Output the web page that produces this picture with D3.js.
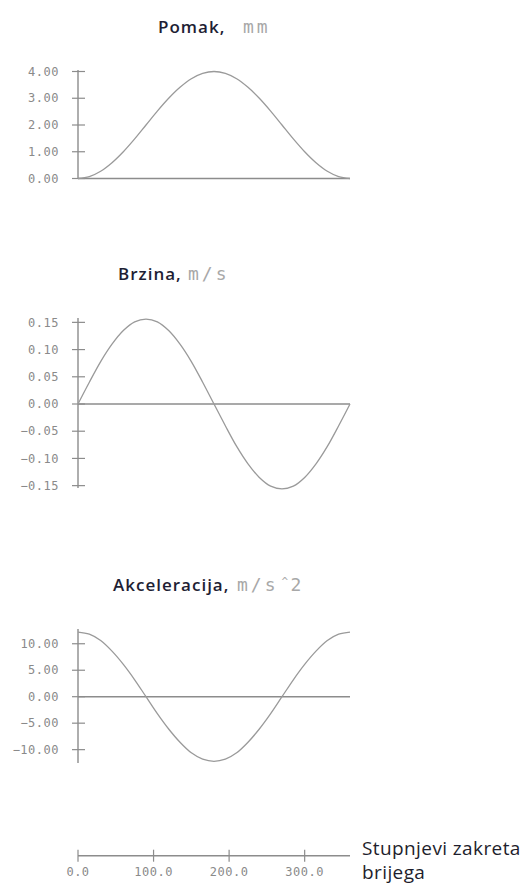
<!DOCTYPE html>
<html>
<head>
<meta charset="utf-8">
<script src="https://cdn.jsdelivr.net/npm/d3@7"></script>
<style>
  html, body { margin: 0; padding: 0; background: #fff; }
  svg { display: block; }
</style>
</head>
<body>
<div id="chart"></div>
<script>
// cam rotation angle, degrees
const angles = [0, 15, 30, 45, 60, 75, 90, 105, 120, 135, 150, 165, 180,
  195, 210, 225, 240, 255, 270, 285, 300, 315, 330, 345, 360];

// displacement, mm
const pomak = [0.00, 0.07, 0.27, 0.59, 1.00, 1.48, 2.00, 2.52, 3.00, 3.41, 3.73, 3.93, 4.00,
  3.93, 3.73, 3.41, 3.00, 2.52, 2.00, 1.48, 1.00, 0.59, 0.27, 0.07, 0.00];

// velocity, m/s
const brzina = [0.000, 0.040, 0.078, 0.110, 0.135, 0.151, 0.156, 0.151, 0.135, 0.110, 0.078, 0.040, 0.000,
  -0.040, -0.078, -0.110, -0.135, -0.151, -0.156, -0.151, -0.135, -0.110, -0.078, -0.040, 0.000];

// acceleration, m/s^2
const akceleracija = [12.2, 11.8, 10.6, 8.6, 6.1, 3.2, 0.0, -3.2, -6.1, -8.6, -10.6, -11.8, -12.2,
  -11.8, -10.6, -8.6, -6.1, -3.2, 0.0, 3.2, 6.1, 8.6, 10.6, 11.8, 12.2];

const pomakTicks = [0, 1, 2, 3, 4];
const brzinaTicks = [-0.15, -0.10, -0.05, 0, 0.05, 0.10, 0.15];
const akceleracijaTicks = [-10, -5, 0, 5, 10];
const angleTicks = [0, 100, 200, 300];

const width = 526;
const height = 884;
const axisColor = '#8c8c8c';
const lineColor = '#9a9a9a';
const tickFont = '"DejaVu Sans Mono", monospace';
const titleFont = '"Open Sans", sans-serif';

const svg = d3.select('#chart')
  .append('svg')
  .attr('width', width)
  .attr('height', height);

// shared x scale (degrees)
const x = d3.scaleLinear().domain([0, 360]).range([78, 350]);

// one panel per quantity
const panels = [
  {name: 'Pomak,', unit: 'mm', values: pomak, ticks: pomakTicks, fmt: d3.format('.2f'),
    domain: [0, 4], range: [178.5, 71.5], axisTop: 70, axisBottom: 178.5,
    titleX: 158, titleY: 33, unitX: 243},
  {name: 'Brzina,', unit: 'm/s', values: brzina, ticks: brzinaTicks, fmt: d3.format('.2f'),
    domain: [-0.156, 0.156], range: [488.9, 319.1], axisTop: 318, axisBottom: 488,
    titleX: 118, titleY: 280, unitX: 188},
  {name: 'Akceleracija,', unit: 'm/s', power: '2', values: akceleracija, ticks: akceleracijaTicks, fmt: d3.format('.2f'),
    domain: [-12.2, 12.2], range: [761.3, 632.1], axisTop: 629, axisBottom: 763,
    titleX: 113, titleY: 591, unitX: 237}
];

panels.forEach(p => {
  const y = d3.scaleLinear().domain(p.domain).range(p.range);
  const g = svg.append('g');

  // title
  g.append('text')
    .attr('x', p.titleX)
    .attr('y', p.titleY)
    .attr('font-family', titleFont)
    .attr('font-size', 17)
    .attr('font-weight', 600)
    .attr('letter-spacing', 1)
    .attr('fill', '#1e1e34')
    .text(p.name);
  const unit = g.append('text')
    .attr('x', p.unitX)
    .attr('y', p.titleY)
    .attr('font-family', tickFont)
    .attr('font-size', 18)
    .attr('font-weight', 200)
    .attr('fill', '#a8a8a8')
    .attr('letter-spacing', 3)
    .text(p.unit);
  if (p.power) {
    const uw = unit.node().getComputedTextLength();
    g.append('text')
      .attr('x', p.unitX + uw + 3)
      .attr('y', p.titleY - 6)
      .attr('font-family', tickFont)
      .attr('font-size', 11)
      .attr('fill', '#a8a8a8')
      .text('^');
    g.append('text')
      .attr('x', p.unitX + uw + 12)
      .attr('y', p.titleY)
      .attr('font-family', tickFont)
      .attr('font-size', 18)
      .attr('font-weight', 200)
      .attr('fill', '#a8a8a8')
      .text(p.power);
  }

  // y axis line
  g.append('line')
    .attr('x1', x(0)).attr('x2', x(0))
    .attr('y1', p.axisTop).attr('y2', p.axisBottom)
    .attr('stroke', axisColor).attr('stroke-width', 1.4);

  // ticks crossing the axis
  g.selectAll('.tick')
    .data(p.ticks)
    .join('line')
    .attr('x1', x(0) - 6).attr('x2', x(0) + 7)
    .attr('y1', d => y(d)).attr('y2', d => y(d))
    .attr('stroke', axisColor).attr('stroke-width', 1.2);

  g.selectAll('.lbl')
    .data(p.ticks)
    .join('text')
    .attr('x', 59)
    .attr('y', d => y(d))
    .attr('dy', '0.35em')
    .attr('text-anchor', 'end')
    .attr('font-family', tickFont)
    .attr('font-size', 12)
    .attr('letter-spacing', 0.5)
    .attr('fill', '#8a8a8a')
    .text(d => p.fmt(d));

  // zero line
  g.append('line')
    .attr('x1', x(0)).attr('x2', x(360))
    .attr('y1', y(0)).attr('y2', y(0))
    .attr('stroke', axisColor).attr('stroke-width', 1.4);

  // curve
  g.append('path')
    .datum(angles.map((a, i) => [a, p.values[i]]))
    .attr('fill', 'none')
    .attr('stroke', lineColor)
    .attr('stroke-width', 1.3)
    .attr('d', d3.line()
      .x(d => x(d[0]))
      .y(d => y(d[1]))
      .curve(d3.curveCatmullRom));
});

// bottom axis, degrees
const axisY = 855.7;
svg.append('line')
  .attr('x1', x(0)).attr('x2', x(360))
  .attr('y1', axisY).attr('y2', axisY)
  .attr('stroke', axisColor).attr('stroke-width', 1.4);

svg.selectAll('.xtick')
  .data(angleTicks)
  .join('line')
  .attr('x1', d => x(d)).attr('x2', d => x(d))
  .attr('y1', axisY - 6).attr('y2', axisY + 6)
  .attr('stroke', axisColor).attr('stroke-width', 1.2);

svg.selectAll('.xlbl')
  .data(angleTicks)
  .join('text')
  .attr('x', d => x(d))
  .attr('y', 872)
  .attr('dy', '0.35em')
  .attr('text-anchor', 'middle')
  .attr('font-family', tickFont)
  .attr('font-size', 12)
  .attr('letter-spacing', 0.5)
  .attr('fill', '#8a8a8a')
  .text(d => d3.format('.1f')(d));

svg.append('text')
  .attr('x', 362)
  .attr('y', 855)
  .attr('font-family', titleFont)
  .attr('font-size', 19)
  .attr('letter-spacing', 0.4)
  .attr('fill', '#1e1e2c')
  .selectAll('tspan')
  .data(['Stupnjevi zakreta', 'brijega'])
  .join('tspan')
  .attr('x', 362)
  .attr('dy', (d, i) => i === 0 ? 0 : 24)
  .text(d => d);
</script>
</body>
</html>
